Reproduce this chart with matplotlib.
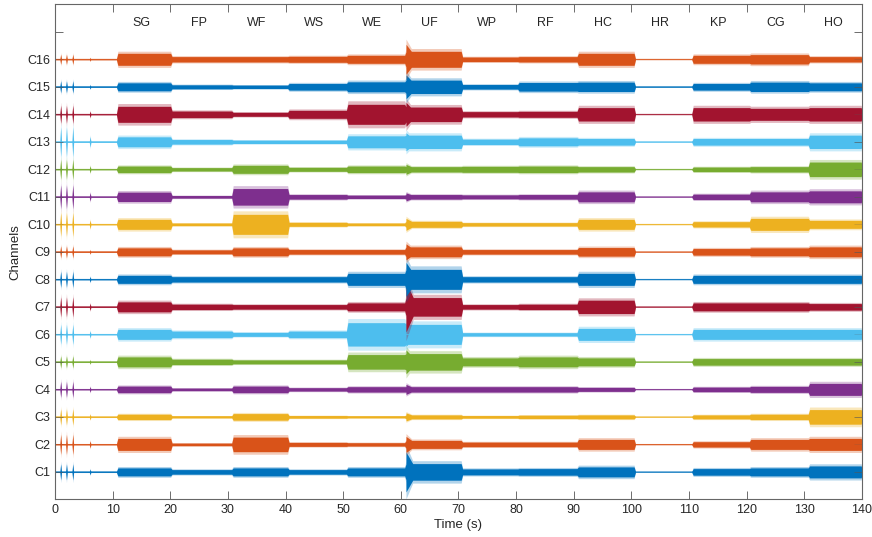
import numpy as np
import matplotlib
matplotlib.use('Agg')
import matplotlib.pyplot as plt

plt.rcParams['font.family'] = ['Liberation Sans', 'DejaVu Sans']

# gesture labels and the start time (s) of each recording segment
gestures = ['SG', 'FP', 'WF', 'WS', 'WE', 'UF', 'WP', 'RF', 'HC', 'HR', 'KP', 'CG', 'HO']
seg_start = [0, 10.8, 20.2, 30.8, 40.5, 50.7, 60.8, 70.6, 80.4, 90.7, 100.6, 110.6, 120.6, 130.8]
t_end = 140

# half-amplitude of the EMG band in each segment (rest + 13 gestures), per channel
C1 = [0.5, 4, 2.3, 4, 2.3, 4, 8.3, 3, 3.3, 5, 0.3, 3.3, 4, 6]
C2 = [0.5, 6, 1.3, 7.3, 2, 1.7, 4, 2.3, 2.3, 5, 0.3, 2.7, 5, 6]
C3 = [0.5, 2.7, 1, 3.3, 1.3, 1, 2, 1.3, 1.7, 2, 0.3, 2, 2.7, 7.3]
C4 = [0.5, 3.3, 1.3, 3.3, 1.7, 2.7, 2.7, 2.7, 2.7, 2, 0.3, 2.3, 3, 6]
C5 = [0.5, 5, 2.7, 2, 2, 7.3, 8.3, 4, 5, 4, 0.3, 3.3, 3.3, 3.3]
C6 = [0.5, 5, 3.3, 2, 3.3, 11.7, 10, 1.7, 1.7, 6, 0.3, 5, 5, 5]
C7 = [0.5, 5, 2.7, 2.3, 2.3, 4, 9.3, 2.3, 2.7, 6.7, 0.3, 4, 4, 3.3]
C8 = [0.5, 4, 2.7, 2.7, 2.7, 6, 10, 2.7, 2.7, 6, 0.3, 4, 4, 4]
C9 = [0.5, 4, 2, 4, 2.3, 2.3, 5, 2.3, 2.3, 4.3, 0.3, 3.3, 4, 5]
C10 = [0.5, 5, 1.3, 10, 2, 1.3, 3, 1.7, 1.7, 5, 0.3, 2.7, 6, 4]
C11 = [0.5, 4.7, 1.3, 8.3, 2.3, 1.7, 2.3, 2, 2.3, 5, 0.3, 2.7, 5, 6]
C12 = [0.5, 3.3, 1.7, 4, 2, 3.3, 2.7, 3, 3.3, 2.7, 0.3, 2.3, 2.7, 7.3]
C13 = [0.5, 5, 2.3, 1.7, 1.7, 6, 6.7, 2.7, 4, 3.3, 0.3, 3.3, 3.3, 6.7]
C14 = [0.5, 8, 3.3, 2, 4, 10, 7.3, 2.7, 3, 6.7, 0.3, 6.7, 6, 6.7]
C15 = [0.5, 4, 2, 1.7, 3.3, 5, 6.7, 2.3, 4.3, 4.7, 0.4, 3.3, 4.7, 4]
C16 = [0.5, 6, 2.7, 2.7, 3, 4, 8, 2.3, 2.7, 6, 0.3, 4, 4.7, 2.7]
channels = [C1, C2, C3, C4, C5, C6, C7, C8, C9, C10, C11, C12, C13, C14, C15, C16]

# spikes during the initial rest and the burst at the start of UF
rest_spike_t = [1.0, 2.0, 3.1, 6.1]
rest_spike_scale = [1.0, 1.0, 1.0, 0.35]
rest_peak = [8, 10, 8, 8, 6, 10, 10, 8, 6, 12, 12, 10, 15, 9, 6, 5]
uf_onset = [20, 8, 4, 5, 12, 12, 25, 17, 8, 6, 4, 5, 9, 12, 12, 15]
uf_t = 60.9

spacing = 27.5  # amplitude units per channel row

colors = ['#0072BD', '#D95319', '#EDB120', '#7E2F8E', '#77AC30', '#4DBEEE', '#A2142F']

dt = 0.01
t = np.arange(0, t_end, dt)
edges = seg_start + [t_end]
kern = np.ones(25) / 25  # soften segment edges a little

fig = plt.figure(figsize=(8.72, 5.37), dpi=100)
ax = fig.add_axes([0.063, 0.070, 0.9255, 0.922])

for k, amps in enumerate(channels):
    env = np.zeros_like(t)
    for i, a in enumerate(amps):
        env[(t >= edges[i]) & (t < edges[i + 1])] = a
    env = np.convolve(env, kern, mode='same')
    for ts, s in zip(rest_spike_t, rest_spike_scale):
        d = np.abs(t - ts)
        env = np.maximum(env, np.where(d < 0.15, rest_peak[k] * s * (1 - d / 0.15), 0))
    # onset burst of UF decays into the segment level
    d = t - uf_t
    burst = np.where((d >= 0) & (d < 2.0), uf_onset[k] * (1 - d / 2.0), 0)
    env = np.maximum(env, burst)
    env = env / spacing
    y0 = k + 1
    c = colors[k % 7]
    ax.fill_between(t, y0 - 1.35 * env, y0 + 1.35 * env, color=c, alpha=0.3, lw=0)
    ax.fill_between(t, y0 - env, y0 + env, color=c, lw=0)
    ax.plot(t, np.full_like(t, y0), color=c, lw=0.6)

for i, g in enumerate(gestures):
    ax.text(15 + 10 * i, 17.32, g, ha='center', va='center', fontsize=9, color='#262626')

ax.set_xlim(0, 140)
ax.set_ylim(0, 18)
ax.set_xticks(np.arange(0, 141, 10))
ax.set_yticks(np.arange(1, 18))
ax.set_yticklabels(['C%d' % i for i in range(1, 17)] + [''])
ax.tick_params(direction='in', length=6, width=0.6, colors='#555555', labelcolor='#262626',
               labelsize=9, top=True, right=True)
for s in ax.spines.values():
    s.set_color('#666666')
    s.set_linewidth(0.8)
ax.set_xlabel('Time (s)', fontsize=9.5, color='#262626', labelpad=2)
ax.set_ylabel('Channels', fontsize=9.5, color='#262626', labelpad=4)

plt.savefig('out.png', dpi=100)
